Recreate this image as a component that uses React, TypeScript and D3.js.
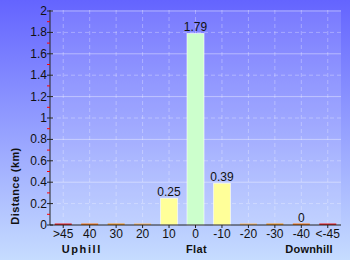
import React from "react";
import * as d3 from "d3";

const categories = [">45", "40", "30", "20", "10", "0", "-10", "-20", "-30", "-40", "<-45"];
const distances = [0, 0, 0, 0, 0.25, 1.79, 0.39, 0, 0, 0.003, 0];
const barColors = ["#ee1a1a", "#ff7b10", "#ff9c1a", "#ffbf70", "#ffff99", "#ccffcc", "#ffff99", "#ffbf70", "#ff9c1a", "#ff7b10", "#ee1a1a"];
const yTicks = [0, 0.2, 0.4, 0.6, 0.8, 1, 1.2, 1.4, 1.6, 1.8, 2];
const minorTicks = [0.1, 0.3, 0.5, 0.7, 0.9, 1.1, 1.3, 1.5, 1.7, 1.9];
const groups = [
  { label: "Uphill", cat: ">45", anchor: "start", dx: -1.5, ls: 1.6 },
  { label: "Flat", cat: "0", anchor: "middle", dx: 1, ls: 0.4 },
  { label: "Downhill", cat: "<-45", anchor: "end", dx: 5, ls: 0.2 },
];

const W = 350, H = 260;
const L = 50, R = 341, T = 11, B = 225;

export default function App() {
  const x = d3.scaleBand<string>().domain(categories).range([L, R]).paddingInner(0).paddingOuter(0);
  const y = d3.scaleLinear().domain([0, 2]).range([B, T]);
  const bw = 17;
  const fmt = d3.format(".2~f");
  const cx = (c: string) => (x(c) as number) + x.bandwidth() / 2;
  const font = "Arial, 'Liberation Sans', sans-serif";
  return (
    <svg width={W} height={H} style={{ position: "absolute", left: 0, top: 0 }} fontFamily={font}>
      <defs>
        <linearGradient id="bg" x1="0" y1="0" x2="0" y2="1">
          <stop offset="0" stopColor="#6464ff" />
          <stop offset="1" stopColor="#c6dcff" />
        </linearGradient>
      </defs>
      <rect x={0} y={0} width={W} height={H} fill="url(#bg)" />
      <rect x={L} y={T - 1} width={R - L} height={B - T + 1} fill="#ffffff" opacity={0.12} />
      {yTicks.slice(1).map((t, i) => (
        <line key={"g" + t} x1={L} x2={R} y1={y(t)} y2={y(t)} stroke="#ffffff"
          strokeOpacity={i % 2 === 0 ? 0.3 : 0.4}
          strokeDasharray={i % 2 === 0 ? "4,3" : undefined} />
      ))}
      {categories.map((c) => (
        <line key={"v" + c} x1={cx(c)} x2={cx(c)} y1={T - 1} y2={B} stroke="#ffffff" strokeOpacity={0.3} strokeDasharray="4,3" />
      ))}
      {categories.map((c, i) => {
        const v = distances[i];
        const top = Math.min(y(v), B - 1.5);
        return (
          <g key={"b" + c}>
            <rect x={cx(c) - bw / 2} y={top} width={bw} height={B - top} fill={barColors[i]}
              stroke={v > 0.1 ? "#ffffff" : "none"} strokeOpacity={0.6} strokeWidth={1} />
            {v > 0 && (
              <text x={cx(c)} y={top - 2} textAnchor="middle" fontSize={12} fill="#111">{fmt(v)}</text>
            )}
          </g>
        );
      })}
      <line x1={L} x2={R} y1={B} y2={B} stroke="#222" />
      <line x1={L} x2={L} y1={T - 1} y2={B} stroke="#222" />
      {minorTicks.map((t) => (
        <line key={"m" + t} x1={L - 3} x2={L} y1={y(t)} y2={y(t)} stroke="#ff0000" />
      ))}
      {yTicks.map((t) => (
        <g key={"t" + t}>
          <line x1={L - 3} x2={L + 3} y1={y(t)} y2={y(t)} stroke="#222" />
          <text x={L - 3} y={y(t) + 4} textAnchor="end" fontSize={12} fill="#111">{String(t)}</text>
        </g>
      ))}
      {categories.map((c) => (
        <g key={"x" + c}>
          <line x1={cx(c)} x2={cx(c)} y1={B} y2={B + 3} stroke="#222" />
          <text x={cx(c)} y={238} textAnchor="middle" fontSize={12} fill="#111">{c}</text>
        </g>
      ))}
      {groups.map((g) => (
        <text key={g.label} x={cx(g.cat) + g.dx} y={253} textAnchor={g.anchor as any} fontSize={11} fontWeight="bold" letterSpacing={g.ls} fill="#111">{g.label}</text>
      ))}
      <text transform="translate(19,186) rotate(-90)" textAnchor="middle" fontSize={11} fontWeight="bold" letterSpacing={0.4} fill="#111">Distance (km)</text>
    </svg>
  );
}
